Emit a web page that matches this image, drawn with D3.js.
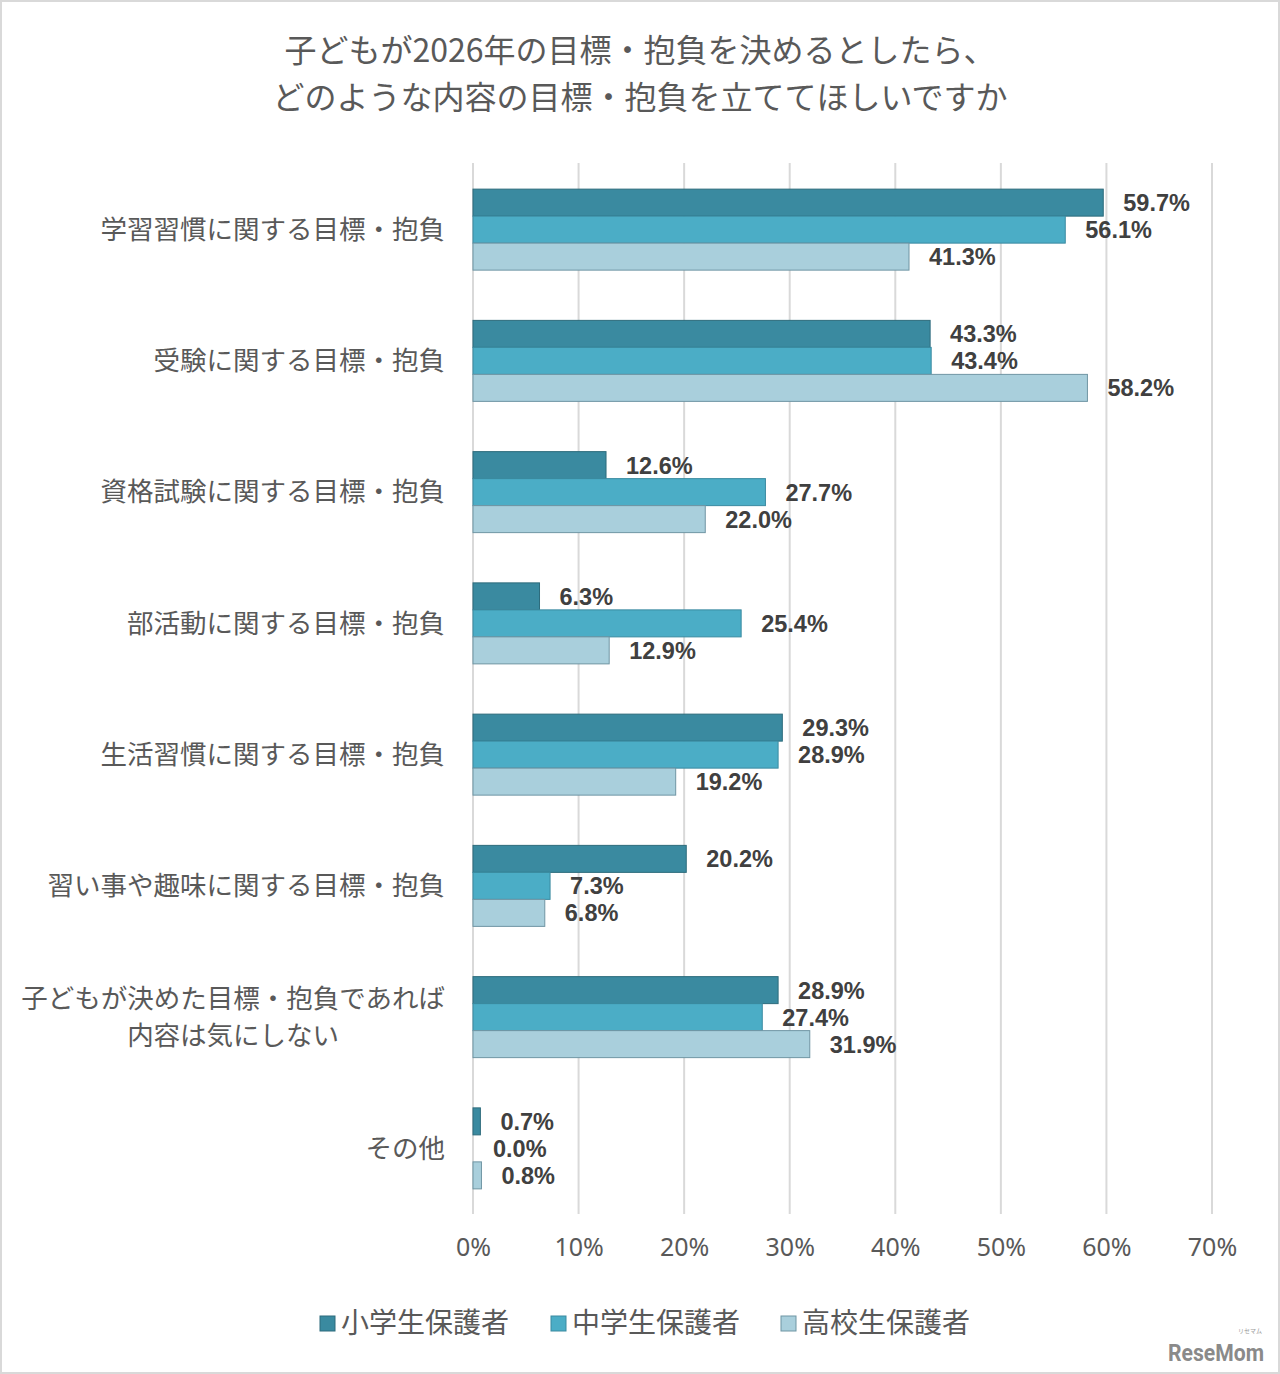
<!DOCTYPE html>
<html><head><meta charset="utf-8">
<script src="https://cdn.jsdelivr.net/npm/d3@7"></script>
<style>
html,body{margin:0;padding:0;background:#fff;}
svg{display:block;}
</style></head>
<body>
<script>
const titleLines = ["子どもが2026年の目標・抱負を決めるとしたら、", "どのような内容の目標・抱負を立ててほしいですか"];
const categories = [
  ["学習習慣に関する目標・抱負"],
  ["受験に関する目標・抱負"],
  ["資格試験に関する目標・抱負"],
  ["部活動に関する目標・抱負"],
  ["生活習慣に関する目標・抱負"],
  ["習い事や趣味に関する目標・抱負"],
  ["子どもが決めた目標・抱負であれば", "内容は気にしない"],
  ["その他"]
];
const seriesNames = ["小学生保護者", "中学生保護者", "高校生保護者"];
const elementary = [59.7, 43.3, 12.6, 6.3, 29.3, 20.2, 28.9, 0.7];
const juniorHigh = [56.1, 43.4, 27.7, 25.4, 28.9, 7.3, 27.4, 0.0];
const highSchool = [41.3, 58.2, 22.0, 12.9, 19.2, 6.8, 31.9, 0.8];
const ticks = [0, 10, 20, 30, 40, 50, 60, 70];
const colors = ["#3a8aa0", "#4badc6", "#a9cfdc"];
const strokes = ["#2d6b7c", "#3a8aa0", "#6f95a3"];

const W = 1280, H = 1374;
const svg = d3.select("body").append("svg").attr("width", W).attr("height", H);
svg.append("rect").attr("x", 1).attr("y", 1).attr("width", W - 2).attr("height", H - 2)
  .attr("fill", "#fff").attr("stroke", "#d9d9d9").attr("stroke-width", 2);

const jp = "'Noto Sans CJK JP', 'Noto Sans', sans-serif";
const textColor = "#595959";

// title
svg.append("g").selectAll("text").data(titleLines).join("text")
  .attr("x", 640).attr("y", (d, i) => 50 + i * 47).attr("dy", "0.36em")
  .attr("text-anchor", "middle").attr("font-family", jp).attr("font-size", 32)
  .attr("fill", textColor).text(d => d);

const x = d3.scaleLinear().domain([0, 70]).range([473, 1212]);
const y = d3.scaleBand().domain(d3.range(categories.length)).range([164, 1214]);
const yInner = d3.scaleBand().domain(d3.range(3)).range([-40.5, 40.5]);

// gridlines
svg.append("g").selectAll("line").data(ticks).join("line")
  .attr("x1", d => x(d)).attr("x2", d => x(d))
  .attr("y1", 163).attr("y2", 1214)
  .attr("stroke", "#d9d9d9").attr("stroke-width", 2);

// x axis tick labels
const xAxis = d3.axisBottom(x).tickValues(ticks).tickFormat(d => d + "%").tickSize(0).tickPadding(0);
const gx = svg.append("g").attr("transform", "translate(0,1238)").call(xAxis);
gx.select(".domain").remove();
gx.selectAll("text").attr("font-family", "'Noto Sans', sans-serif").attr("font-size", 25)
  .attr("fill", textColor).attr("dy", "0.72em");

// category labels
const catG = svg.append("g");
categories.forEach((lines, i) => {
  const cy = y(i) + y.bandwidth() / 2;
  const n = lines.length;
  const els = lines.map((t, j) => catG.append("text")
    .attr("y", cy + (j - (n - 1) / 2) * 37).attr("dy", "0.35em")
    .attr("font-family", jp).attr("font-size", 26.5)
    .attr("fill", textColor).text(t));
  if (n > 1) {
    const maxW = d3.max(els, e => e.node().getComputedTextLength());
    els.forEach(e => e.attr("x", 445 - maxW / 2).attr("text-anchor", "middle"));
  } else {
    els.forEach(e => e.attr("x", 445).attr("text-anchor", "end"));
  }
});

// bars
const allSeries = [elementary, juniorHigh, highSchool];
allSeries.forEach((vals, s) => {
  const g = svg.append("g");
  g.selectAll("rect").data(vals).join("rect")
    .attr("x", x(0))
    .attr("y", (d, i) => y(i) + y.bandwidth() / 2 + yInner(s))
    .attr("width", d => x(d) - x(0))
    .attr("height", yInner.bandwidth())
    .attr("fill", colors[s])
    .attr("stroke", d => d > 0 ? strokes[s] : "none").attr("stroke-width", 1);
  g.selectAll("text").data(vals).join("text")
    .attr("x", d => x(d) + 20)
    .attr("y", (d, i) => y(i) + y.bandwidth() / 2 + yInner(s) + yInner.bandwidth() / 2)
    .attr("dy", "0.36em")
    .attr("font-family", "'Liberation Sans', Arial, sans-serif").attr("font-weight", "bold")
    .attr("font-size", 23.5).attr("fill", "#404040")
    .text(d => d.toFixed(1) + "%");
});

// legend
const legendX = [320, 551, 781];
const lg = svg.append("g");
seriesNames.forEach((name, i) => {
  lg.append("rect").attr("x", legendX[i]).attr("y", 1316).attr("width", 15).attr("height", 15)
    .attr("fill", colors[i]).attr("stroke", strokes[i]).attr("stroke-width", 1);
  lg.append("text").attr("x", legendX[i] + 21).attr("y", 1323).attr("dy", "0.36em")
    .attr("font-family", jp).attr("font-size", 28).attr("fill", textColor).text(name);
});

// watermark
svg.append("text").attr("x", 1264).attr("y", 1361).attr("text-anchor", "end")
  .attr("font-family", "'Liberation Sans Narrow', 'Roboto', sans-serif").attr("font-weight", "bold")
  .attr("font-size", 24).attr("fill", "#8a8a8a").attr("textLength", 96).attr("lengthAdjust", "spacingAndGlyphs")
  .text("ReseMom");
svg.append("text").attr("x", 1262).attr("y", 1333).attr("text-anchor", "end")
  .attr("font-family", jp).attr("font-size", 6).attr("fill", "#9a9a9a").text("リセマム");
</script>
</body></html>
